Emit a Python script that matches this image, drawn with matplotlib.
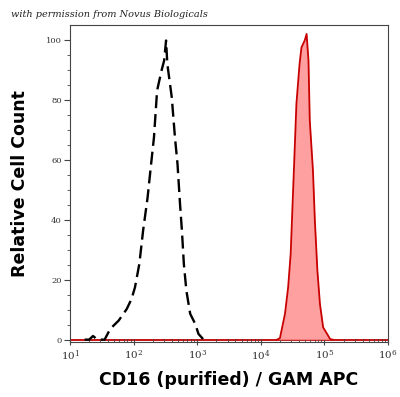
import numpy as np
import matplotlib.pyplot as plt
from matplotlib.transforms import ScaledTranslation

plt.rcParams['figure.dpi'] = 100
plt.rcParams['mathtext.fontset'] = 'dejavuserif'

# isotype / unstained control (black dashed)
ctrl_x = [17, 20, 23, 27, 35, 43, 58, 78, 93, 105, 123, 141, 166, 186, 209,
          234, 275, 302, 324, 339, 398, 447, 490, 537, 575, 617, 676, 776,
          933, 1047, 1259]
ctrl_y = [0, 0, 1.2, 0, 0, 3.6, 6.3, 10.2, 13.6, 17.4, 25.2, 36.3, 47.4, 57.4,
          67.4, 83.0, 89.7, 93.0, 99.7, 91.9, 80.8, 67.4, 58.6, 45.2, 36.3,
          25.2, 16.3, 8.6, 5.2, 1.9, 0]

# CD16 stained sample (red filled)
cd16_x = [18000, 20000, 24000, 26900, 29500, 31600, 33900, 36300, 40700, 43600,
          49000, 52500, 56200, 58900, 66100, 70800, 77600, 85100, 95500,
          123000, 135000]
cd16_y = [0, 0.5, 8.6, 17.4, 28.6, 45.2, 61.9, 78.6, 91.9, 97.4, 99.7, 101.9,
          93.0, 73.0, 56.3, 39.7, 23.0, 11.9, 4.1, 0.2, 0]

xticks = [1e1, 1e2, 1e3, 1e4, 1e5, 1e6]
xticklabels = ['$10^{1}$', '$10^{2}$', '$10^{3}$', '$10^{4}$', '$10^{5}$', '$10^{6}$']
yticks = [0, 20, 40, 60, 80, 100]

fig = plt.figure(figsize=(4.0, 3.97))
ax = fig.add_axes([0.175, 0.1385, 0.795, 0.798])

ax.plot([10, 1e6], [0, 0], color='#c00000', lw=1.3, zorder=1)
ax.fill_between(cd16_x, cd16_y, 0, color='#ff8f8f', alpha=0.85, lw=0, zorder=2)
ax.plot(cd16_x, cd16_y, color='#c80000', lw=1.3, zorder=3)
ax.plot(ctrl_x, ctrl_y, color='black', lw=1.7, dashes=(5.5, 2.5), zorder=4)

ax.set_xscale('log')
ax.set_xlim(10, 1e6)
ax.set_ylim(-0.8, 104.8)

ax.set_xticks(xticks)
ax.set_xticklabels(xticklabels, family='DejaVu Serif', fontsize=7.5, color='#333333')
ax.set_yticks(yticks)
ax.set_yticklabels([str(v) for v in yticks], family='DejaVu Serif', fontsize=6, color='#333333')
ax.set_yticks(np.arange(0, 105, 5), minor=True)

# labels sit a little right of their ticks, end ones kept inside the frame
offsets = [9, 6, 4, 4, 3, -9]
for lab, dx in zip(ax.get_xticklabels(), offsets):
    lab.set_transform(lab.get_transform() + ScaledTranslation(dx / 100, 0, fig.dpi_scale_trans))

ax.tick_params(axis='y', which='major', direction='out', length=4, width=0.8, color='#444444', pad=2)
ax.tick_params(axis='y', which='minor', direction='out', length=2, width=0.6, color='#444444')
ax.tick_params(axis='x', which='major', direction='inout', length=5, width=0.8, color='#444444', pad=2)
ax.tick_params(axis='x', which='minor', direction='in', length=2.5, width=0.6, color='#444444')

for s in ax.spines.values():
    s.set_color('#444444')
    s.set_linewidth(0.8)

ax.set_xlabel('CD16 (purified) / GAM APC', fontsize=12.5, fontweight='bold',
              family='DejaVu Sans', labelpad=6)
ax.set_ylabel('Relative Cell Count', fontsize=12.5, fontweight='bold',
              family='DejaVu Sans', labelpad=12)

fig.text(0.028, 0.958, 'with permission from Novus Biologicals', fontsize=7,
         style='italic', family='DejaVu Serif', color='#222222')

plt.savefig('out.png', dpi=100)
